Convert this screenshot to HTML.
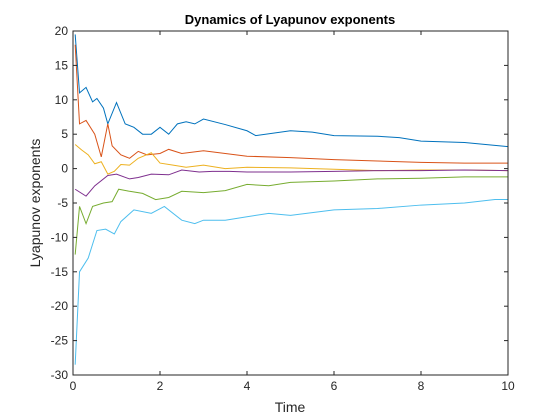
<!DOCTYPE html>
<html><head><meta charset="utf-8"><style>
body{margin:0;background:#fff}
svg{display:block;font-family:"Liberation Sans",sans-serif}
</style></head><body>
<svg id="c" width="560" height="420">
<rect width="560" height="420" fill="#fff"/>
<text x="290" y="24" text-anchor="middle" font-size="13" font-weight="bold">Dynamics of Lyapunov exponents</text>
<text x="290" y="412" text-anchor="middle" font-size="14" fill="#262626">Time</text>
<text transform="translate(40,203) rotate(-90)" text-anchor="middle" font-size="14" fill="#262626">Lyapunov exponents</text>
<g id="plot"></g>
</svg>
<script>
const xTicks=[0,2,4,6,8,10];
const yTicks=[20,15,10,5,0,-5,-10,-15,-20,-25,-30];
const colors=["#0072BD","#D95319","#EDB120","#7E2F8E","#77AC30","#4DBEEE"];
const tBlue=[0.05,0.15,0.3,0.45,0.55,0.7,0.8,1.0,1.2,1.4,1.6,1.8,2.0,2.2,2.4,2.6,2.8,3.0,3.5,4.0,4.2,5.0,5.5,6.0,7.0,7.5,8.0,9.0,10];
const vBlue=[19.5,11,11.8,9.7,10.2,8.8,6.5,9.6,6.5,6,5,5,6,5,6.5,6.8,6.5,7.2,6.4,5.5,4.8,5.5,5.3,4.8,4.7,4.5,4,3.8,3.2];
const tOrange=[0.05,0.15,0.3,0.5,0.65,0.8,0.9,1.1,1.3,1.5,1.7,2.0,2.2,2.5,3,3.5,4,5,6,7,8,9,10];
const vOrange=[18,6.5,7,5,1.7,6.5,3.3,2,1.5,2.5,2,2.2,2.8,2.2,2.6,2.2,1.8,1.6,1.3,1.1,0.9,0.8,0.8];
const tYellow=[0.05,0.2,0.35,0.5,0.65,0.8,0.95,1.1,1.3,1.5,1.8,2.0,2.3,2.6,3,3.5,4,5,6,7,8,9,10];
const vYellow=[3.5,2.7,2,0.7,1,-0.8,-0.4,0.6,0.5,1.5,2.3,0.8,0.5,0.2,0.5,0,0.2,0.1,-0.1,-0.3,-0.2,-0.2,-0.3];
const tPurple=[0.05,0.3,0.5,0.8,1.0,1.3,1.5,1.8,2.2,2.5,2.9,3.2,3.6,4,5,6,7,8,9,10];
const vPurple=[-3,-4,-2.5,-1,-0.8,-1.5,-1.3,-0.8,-0.9,-0.2,-0.5,-0.4,-0.4,-0.5,-0.5,-0.4,-0.3,-0.3,-0.2,-0.3];
const tGreen=[0.05,0.15,0.3,0.45,0.7,0.9,1.05,1.3,1.6,1.9,2.2,2.5,3,3.5,4,4.5,5,6,7,8,9,10];
const vGreen=[-12.5,-5.5,-8,-5.5,-5,-4.8,-3,-3.3,-3.6,-4.5,-4.2,-3.3,-3.5,-3.2,-2.3,-2.5,-2,-1.8,-1.5,-1.4,-1.2,-1.2];
const tCyan=[0.05,0.15,0.35,0.55,0.75,0.95,1.1,1.4,1.8,2.1,2.5,2.8,3,3.5,4,4.5,5,6,7,8,9,9.7,10];
const vCyan=[-28.5,-15,-13,-9,-8.8,-9.5,-7.7,-6,-6.5,-5.5,-7.5,-8,-7.5,-7.5,-7,-6.5,-6.8,-6,-5.8,-5.3,-5,-4.5,-4.5];
const series=[[tBlue,vBlue],[tOrange,vOrange],[tYellow,vYellow],[tPurple,vPurple],[tGreen,vGreen],[tCyan,vCyan]];
const names=["blue","orange","yellow","purple","green","cyan"];
const L=73,R=508,T=31,B=375;
const sx=t=>L+(t-0)/10*(R-L);
const sy=v=>T+(20-v)/50*(B-T);
const ns="http://www.w3.org/2000/svg";
const g=document.getElementById('plot');
function mk(tag,a){const e=document.createElementNS(ns,tag);for(const k in a)e.setAttribute(k,a[k]);g.appendChild(e);return e;}
series.forEach((s,i)=>{
  const p=mk('polyline',{points:s[0].map((t,j)=>sx(t)+','+sy(s[1][j])).join(' '),fill:'none',stroke:colors[i],'stroke-width':1});
  
  
});
const box=mk('rect',{x:L,y:T,width:R-L,height:B-T,fill:'none',stroke:'#262626','stroke-width':1});


xTicks.forEach(t=>{
  const x=sx(t);
  mk('line',{x1:x,x2:x,y1:B,y2:B-4,stroke:'#262626'});
  mk('line',{x1:x,x2:x,y1:T,y2:T+4,stroke:'#262626'});
  const tx=mk('text',{x:x,y:B+15,'text-anchor':'middle','font-size':12,fill:'#262626'});
  tx.textContent=t;
  
  
});
yTicks.forEach(v=>{
  const y=sy(v);
  mk('line',{x1:L,x2:L+4,y1:y,y2:y,stroke:'#262626'});
  mk('line',{x1:R,x2:R-4,y1:y,y2:y,stroke:'#262626'});
  const tx=mk('text',{x:L-5,y:y+4,'text-anchor':'end','font-size':12,fill:'#262626'});
  tx.textContent=v;
  
  
});
</script>
</body></html>
